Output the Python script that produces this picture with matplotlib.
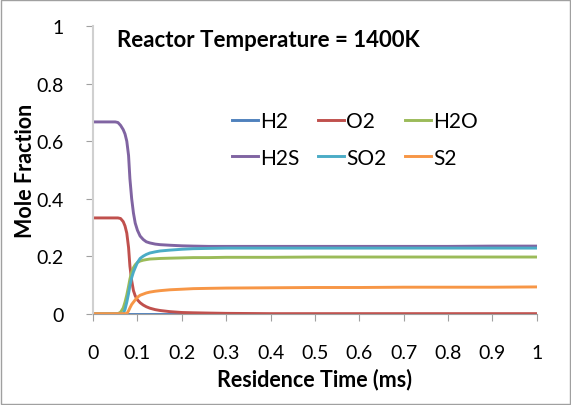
import matplotlib
matplotlib.use('Agg')
import matplotlib.pyplot as plt

# Residence time (ms) and mole fractions
time_ms = [0, 0.05, 0.056, 0.062, 0.068, 0.072, 0.076, 0.080, 0.083, 0.087,
           0.091, 0.095, 0.1, 0.106, 0.113, 0.12, 0.128, 0.14, 0.151, 0.173,
           0.2, 0.226, 0.26, 0.3, 0.4, 0.5, 0.6, 0.7, 0.8, 0.9, 1.0]

h2 = [0.0] * len(time_ms)
o2 = [0.333, 0.333, 0.333, 0.331, 0.320, 0.305, 0.280, 0.230, 0.166, 0.115,
      0.080, 0.062, 0.048, 0.038, 0.030, 0.024, 0.019, 0.014, 0.011, 0.007,
      0.004, 0.003, 0.002, 0.001, 0, 0, 0, 0, 0, 0, 0]
h2o = [0, 0, 0, 0.005, 0.020, 0.040, 0.065, 0.095, 0.120, 0.145,
       0.160, 0.170, 0.178, 0.183, 0.186, 0.188, 0.190, 0.191, 0.192, 0.193,
       0.194, 0.195, 0.195, 0.196, 0.196, 0.197, 0.197, 0.197, 0.197, 0.197, 0.197]
h2s = [0.667, 0.667, 0.665, 0.655, 0.640, 0.625, 0.600, 0.550, 0.470, 0.400,
       0.350, 0.315, 0.290, 0.270, 0.258, 0.250, 0.246, 0.242, 0.240, 0.238,
       0.236, 0.235, 0.234, 0.234, 0.234, 0.234, 0.234, 0.234, 0.234, 0.235, 0.235]
so2 = [0, 0, 0, 0, 0, 0.015, 0.040, 0.070, 0.097, 0.125,
       0.145, 0.160, 0.178, 0.192, 0.200, 0.206, 0.211, 0.215, 0.218, 0.221,
       0.224, 0.226, 0.227, 0.228, 0.228, 0.228, 0.228, 0.228, 0.228, 0.228, 0.228]
s2 = [0, 0, 0, 0, 0, 0, 0, 0.010, 0.020, 0.032,
      0.040, 0.048, 0.057, 0.064, 0.068, 0.072, 0.075, 0.078, 0.080, 0.083,
      0.085, 0.087, 0.088, 0.089, 0.090, 0.091, 0.091, 0.092, 0.092, 0.092, 0.093]

species = ['H2', 'O2', 'H2O', 'H2S', 'SO2', 'S2']
series = [h2, o2, h2o, h2s, so2, s2]
colors = ['#4F81BD', '#C0504D', '#9BBB59', '#8064A2', '#4BACC6', '#F79646']

x_ticks = [0, 0.1, 0.2, 0.3, 0.4, 0.5, 0.6, 0.7, 0.8, 0.9, 1]
x_tick_labels = ['0', '0.1', '0.2', '0.3', '0.4', '0.5', '0.6', '0.7', '0.8', '0.9', '1']
y_ticks = [0, 0.2, 0.4, 0.6, 0.8, 1]
y_tick_labels = ['0', '0.2', '0.4', '0.6', '0.8', '1']

plt.rcParams['font.family'] = ['Lato', 'DejaVu Sans']

fig = plt.figure(figsize=(5.71, 4.06), dpi=100)
ax = fig.add_axes([0.163, 0.225, 0.777, 0.708])

lines = {}
for name, vals, c in zip(species, series, colors):
    lines[name], = ax.plot(time_ms, vals, color=c, lw=2.1, label=name)

ax.set_xlim(0, 1)
ax.set_ylim(0, 1)
ax.set_xticks(x_ticks)
ax.set_xticklabels(x_tick_labels)
ax.set_yticks(y_ticks)
ax.set_yticklabels(y_tick_labels)

for side in ['top', 'right']:
    ax.spines[side].set_visible(False)
ax.spines['left'].set_color('#d0d0d0')
ax.spines['left'].set_linewidth(1.5)
ax.spines['bottom'].set_color('#a0a0a0')
ax.tick_params(axis='x', direction='out', length=5, color='#a0a0a0', pad=17, labelsize=14)
ax.tick_params(axis='y', direction='out', length=5, color='#a0a0a0', pad=16, labelsize=14)

ax.set_xlabel('Residence Time (ms)', fontsize=15.5, fontweight='bold', labelpad=5)
ax.set_ylabel('Mole Fraction', fontsize=15.5, fontweight='bold')
ax.yaxis.set_label_coords(-0.128, 0.5)

ax.text(0.055, 0.955, 'Reactor Temperature = 1400K', transform=ax.transAxes,
        fontsize=16, fontweight='bold', ha='left', va='center')

# column-major order so rows read H2 O2 H2O / H2S SO2 S2
order = ['H2', 'H2S', 'O2', 'SO2', 'H2O', 'S2']
ax.legend([lines[n] for n in order], order, ncol=3, frameon=False,
          loc='center', bbox_to_anchor=(0.59, 0.606), fontsize=15,
          handlelength=1.25, handletextpad=0.1, columnspacing=0.9,
          labelspacing=0.78)

# light border around whole chart area
fig.patches.append(plt.Rectangle((0.002, 0.002), 0.996, 0.996, transform=fig.transFigure,
                                 fill=False, edgecolor='#a0a0a0', lw=1))

fig.savefig('out.png', dpi=100)
